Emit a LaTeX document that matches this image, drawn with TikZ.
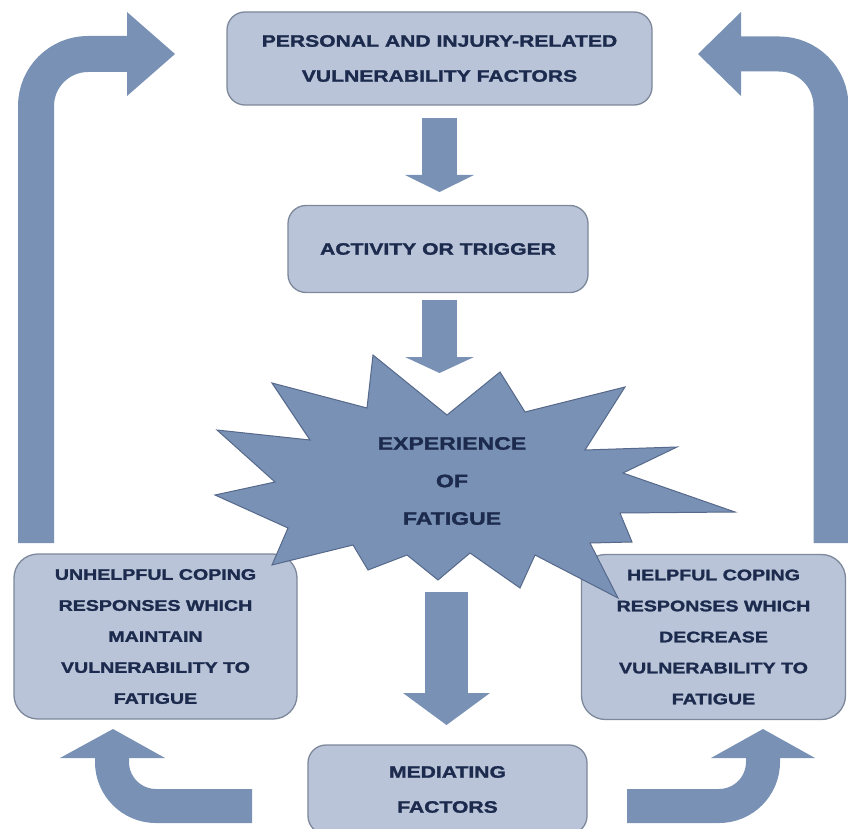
\documentclass[tikz,border=0pt]{standalone}
\usepackage{fontspec}
\newfontfamily\boxfont[FakeStretch=1.28, BoldFeatures={FakeBold=1.6}]{Liberation Sans}
\usetikzlibrary{calc}
\definecolor{boxfill}{HTML}{B9C4D8}
\definecolor{boxline}{HTML}{7D889B}
\definecolor{arrfill}{HTML}{7891B5}
\definecolor{starline}{HTML}{56698A}
\definecolor{txt}{HTML}{1C2A4D}
\begin{document}
\begin{tikzpicture}[x=1pt,y=-1pt,
  box/.style={draw=boxline, line width=1.3pt, fill=boxfill, rounded corners=18pt,
    align=center, text=txt, inner sep=0pt,
    font=\boxfont\bfseries\fontsize{16.5}{35}\selectfont},
  sidebox/.style={box, rounded corners=24pt,
    font=\boxfont\bfseries\fontsize{15.3}{31}\selectfont},
  fatline/.style={draw=arrfill, line width=35pt},
  arrhead/.style={fill=arrfill},
  burst/.style={fill=arrfill, draw=starline, line width=1pt, line join=miter},
  bursttext/.style={align=center, text=txt, inner sep=0pt,
    font=\boxfont\bfseries\fontsize{18}{37.5}\selectfont}]
\clip (0,0) rectangle (848,829);
\fill[white] (0,0) rectangle (848,829);

% ---- named coordinates for arrows ----
\coordinate (a1s) at (439.5,118);
\coordinate (a1b) at (439.5,176);
\coordinate (a2s) at (439.5,300);
\coordinate (a2b) at (439.5,358);
\coordinate (a3s) at (446.5,592);
\coordinate (a3b) at (446.5,694);
\coordinate (tlS) at (36,543);
\coordinate (tlC) at (36,54);
\coordinate (tlE) at (128,54);
\coordinate (trS) at (831,543);
\coordinate (trC) at (831,54);
\coordinate (trE) at (740,54);
\coordinate (blS) at (252,806);
\coordinate (blC) at (112,806);
\coordinate (blE) at (112,757);
\coordinate (brS) at (627,806);
\coordinate (brC) at (763,806);
\coordinate (brE) at (763,757);

% ---- straight arrows ----
\draw[fatline] (a1s) -- (a1b);
\fill[arrhead] (405,175) -- (439.5,192) -- (474,175) -- cycle;
\draw[fatline] (a2s) -- (a2b);
\fill[arrhead] (405,357) -- (439.5,373) -- (474,357) -- cycle;
\draw[fatline, line width=43pt] (a3s) -- (a3b);
\fill[arrhead] (403,693) -- (446.5,725) -- (490,693) -- cycle;

% ---- bent arrows ----
\draw[fatline, line width=36pt, rounded corners=52pt] (tlS) -- (tlC) -- (tlE);
\fill[arrhead] (127,12) -- (175,54) -- (127,96) -- cycle;
\draw[fatline, line width=35pt, rounded corners=52pt] (trS) -- (trC) -- (trE);
\fill[arrhead] (741,12) -- (698,54) -- (741,96) -- cycle;
\draw[fatline, line width=34pt, rounded corners=44pt] (blS) -- (blC) -- (blE);
\fill[arrhead] (60,758) -- (113,729) -- (165,758) -- cycle;
\draw[fatline, line width=34pt, rounded corners=44pt] (brS) -- (brC) -- (brE);
\fill[arrhead] (711,758) -- (763,729) -- (815,758) -- cycle;

% ---- boxes ----
\node[box, minimum width=425pt, minimum height=93pt] (top) at (439.5,58.5)
  {PERSONAL AND INJURY-RELATED\\VULNERABILITY FACTORS};
\node[box, minimum width=300pt, minimum height=87pt] (act) at (438,249)
  {ACTIVITY OR TRIGGER};
\node[sidebox, minimum width=283pt, minimum height=165pt] (left) at (155.5,636.5)
  {UNHELPFUL COPING\\RESPONSES WHICH\\MAINTAIN\\VULNERABILITY TO\\FATIGUE};
\node[sidebox, minimum width=264pt, minimum height=165pt] (right) at (713.5,637)
  {HELPFUL COPING\\RESPONSES WHICH\\DECREASE\\VULNERABILITY TO\\FATIGUE};
\node[box, minimum width=279pt, minimum height=89pt] (med) at (447.5,789.5)
  {MEDIATING\\FACTORS};

% ---- starburst ----
\draw[burst] (373,355) -- (447,415) -- (500,372) -- (525,412) -- (625,387)
  -- (585,450) -- (677,447) -- (623,473) -- (735,512) -- (620,513)
  -- (632,542) -- (590,543) -- (618,598) -- (535,555) -- (520,588)
  -- (470,553) -- (438,580) -- (407,555) -- (368,570) -- (353,545)
  -- (272,565) -- (288,528) -- (215,495) -- (275,482) -- (217,430)
  -- (310,440) -- (272,383) -- (367,408) -- cycle;
\node[bursttext] (fatigue) at (452,481) {EXPERIENCE\\OF\\FATIGUE};
\end{tikzpicture}
\end{document}
